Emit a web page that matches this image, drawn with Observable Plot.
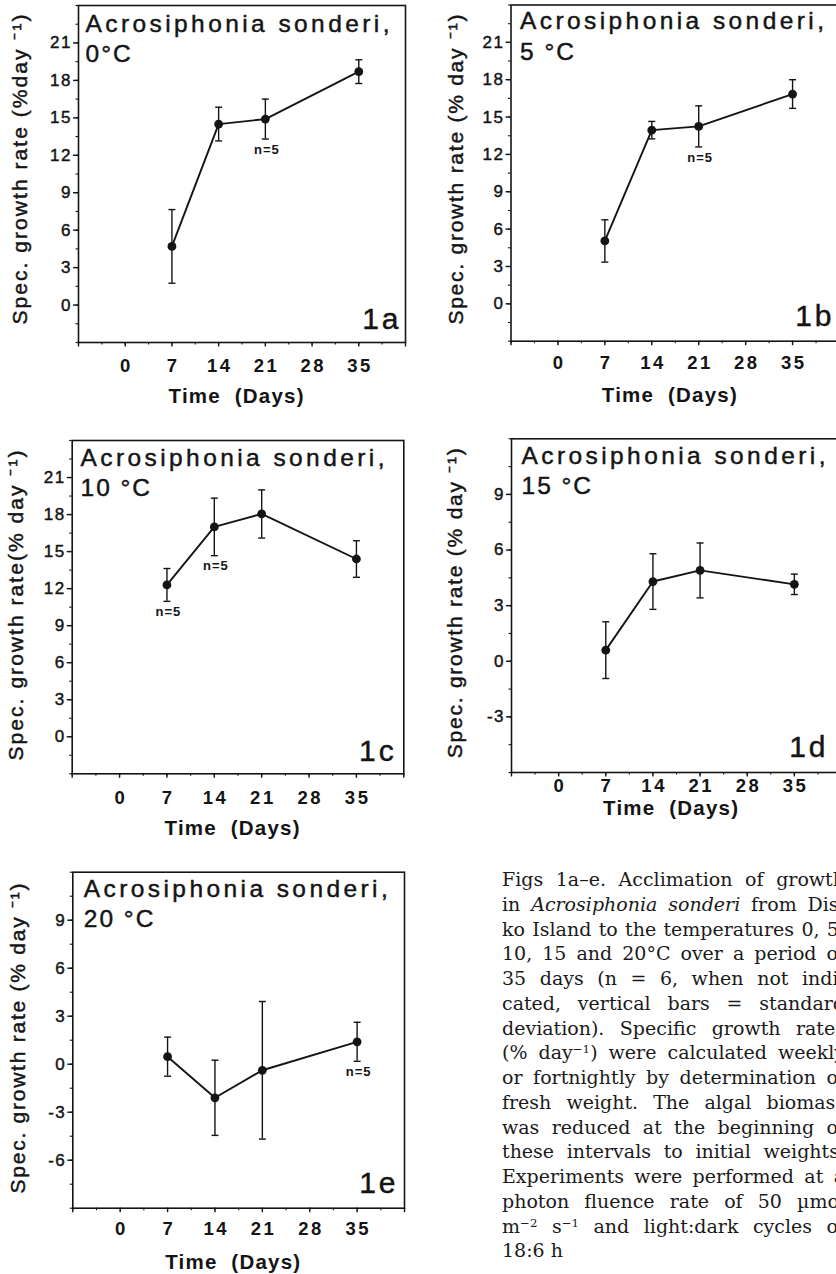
<!DOCTYPE html>
<html>
<head>
<meta charset="utf-8">
<script src="https://cdn.jsdelivr.net/npm/d3@7"></script>
<script src="https://cdn.jsdelivr.net/npm/@observablehq/plot@0.6"></script>
<style>
  html, body { margin: 0; padding: 0; background: #fff; }
  #root { position: relative; width: 836px; height: 1274px; overflow: hidden; background: #fff; }
  .panel { position: absolute; overflow: visible; }
  .panel text { paint-order: stroke; }
  .caption { position: absolute; left: 502px; top: 867px; width: 343px;
    font-family: "DejaVu Serif", "Liberation Serif", serif; font-size: 19px; line-height: 24.75px; color: #1a1a1a; }
  .caption div { text-align: justify; text-align-last: justify; white-space: nowrap; }
  .caption div.last { text-align-last: left; }
  .caption sup { font-size: 0.62em; line-height: 0; vertical-align: 0.55em; }
</style>
</head>
<body>
<div id="root"></div>
<script>
// ---------- data ----------
const days = [7, 14, 21, 35];
const xTickLabels = [0, 7, 14, 21, 28, 35];
const xTickMarks = [-7, 0, 7, 14, 21, 28, 35, 42];
const xDomain = [-7, 42];

const panelNames = ["1a", "1b", "1c", "1d", "1e"];
const speciesName = "Acrosiphonia sonderi,";
const temperatures = ["0°C", "5 °C", "10 °C", "15 °C", "20 °C"];
const yLabels = [
  "Spec. growth rate (%day ⁻¹)",
  "Spec. growth rate (% day ⁻¹)",
  "Spec. growth rate(% day ⁻¹)",
  "Spec. growth rate (% day ⁻¹)",
  "Spec. growth rate (% day ⁻¹)"
];
const xLabel = "Time  (Days)";
const nLabel = "n=5";

// means and standard deviations (% day-1)
const mean0C  = [4.7, 14.5, 14.9, 18.7];
const sd0C    = [2.95, 1.35, 1.6, 0.95];
const mean5C  = [5.05, 13.95, 14.25, 16.85];
const sd5C    = [1.7, 0.7, 1.65, 1.15];
const mean10C = [12.3, 17.0, 18.05, 14.4];
const sd10C   = [1.33, 2.33, 1.95, 1.48];
const mean15C = [0.6, 4.3, 4.9, 4.15];
const sd15C   = [1.53, 1.5, 1.48, 0.55];
const mean20C = [0.47, -2.1, -0.38, 1.4];
const sd20C   = [1.22, 2.35, 4.3, 1.22];

// days for which n = 5
const n5Days0C  = [21];
const n5Days5C  = [21];
const n5Days10C = [7, 14];
const n5Days15C = [];
const n5Days20C = [35];

const yDomainWarm = [-6, 12];
const yDomainCold = [-3, 24];
const yDomainHot  = [-9, 12];
const yTicksCold = [0, 3, 6, 9, 12, 15, 18, 21];
const yTicksWarm = [-3, 0, 3, 6, 9];
const yTicksHot  = [-6, -3, 0, 3, 6, 9];

const captionLines = [
  "Figs 1a–e. Acclimation of growth",
  "in <i>Acrosiphonia sonderi</i> from Dis-",
  "ko Island to the temperatures 0, 5,",
  "10, 15 and 20°C over a period of",
  "35 days (n = 6, when not indi-",
  "cated, vertical bars = standard",
  "deviation). Specific growth rates",
  "(% day<sup>−1</sup>) were calculated weekly",
  "or fortnightly by determination of",
  "fresh weight. The algal biomass",
  "was reduced at the beginning of",
  "these intervals to initial weights.",
  "Experiments were performed at a",
  "photon fluence rate of 50 µmol",
  "m<sup>−2</sup> s<sup>−1</sup> and light:dark cycles of",
  "18:6 h"
];

const series = [
  {mean: mean0C,  sd: sd0C,  n5: n5Days0C,  yDomain: yDomainCold, yTicks: yTicksCold},
  {mean: mean5C,  sd: sd5C,  n5: n5Days5C,  yDomain: yDomainCold, yTicks: yTicksCold},
  {mean: mean10C, sd: sd10C, n5: n5Days10C, yDomain: yDomainCold, yTicks: yTicksCold},
  {mean: mean15C, sd: sd15C, n5: n5Days15C, yDomain: yDomainWarm, yTicks: yTicksWarm},
  {mean: mean20C, sd: sd20C, n5: n5Days20C, yDomain: yDomainHot,  yTicks: yTicksHot}
];

// ---------- layout (positions / styles only) ----------
const layout = [
  {left: 0,   top: 0,   width: 420, height: 410, ml: 78,   mr: 15,  mt: 5,    mb: 68,
   tDx: 7,  tDy: 26.7, t2Dy: 56.7, yLabDx: -58.5, yLabDy: -4.5, tickOff: 22.7, xLabOff: 54.4, pDx: -4, pDy: -13.3},
  {left: 416, top: 0,   width: 430, height: 410, ml: 94.5, mr: 7,   mt: 4.5,  mb: 69.3,
   tDx: 9,  tDy: 24,   t2Dy: 55,   yLabDx: -54.5, yLabDy: -3.5, tickOff: 21,   xLabOff: 54.3, pDx: -5, pDy: -15},
  {left: 0,   top: 420, width: 420, height: 420, ml: 71.7, mr: 16.7, mt: 20,  mb: 66.7,
   tDx: 8.3, tDy: 25,  t2Dy: 55,   yLabDx: -55.7, yLabDy: -1.7, tickOff: 23.4, xLabOff: 54.7, pDx: -7, pDy: -13.3},
  {left: 416, top: 420, width: 430, height: 420, ml: 95,   mr: 5,   mt: 18.3, mb: 68,
   tDx: 10, tDy: 25,   t2Dy: 55,   yLabDx: -56,   yLabDy: -2.5, tickOff: 12.7, xLabOff: 35.7, pDx: -13, pDy: -15.6},
  {left: 0,   top: 850, width: 420, height: 424, ml: 72.3, mr: 16,  mt: 21.7, mb: 66.3,
   tDx: 11, tDy: 25,   t2Dy: 55,   yLabDx: -54.8, yLabDy: -1.7, tickOff: 20.3, xLabOff: 54,   pDx: -6, pDy: -15.7}
];

const ink = "#141414";
const sans = "'Liberation Sans', Arial, Helvetica, sans-serif";

// horizontal bar symbol for error-bar caps
const capSymbol = {
  draw(context, size) {
    const w = Math.sqrt(size / Math.PI);
    context.moveTo(-w, 0);
    context.lineTo(w, 0);
  }
};

const root = document.getElementById("root");

series.forEach((s, i) => {
  const L = layout[i];
  const rows = days.map((d, j) => ({day: d, mean: s.mean[j], lo: s.mean[j] - s.sd[j], hi: s.mean[j] + s.sd[j]}));
  const nRows = rows.filter(r => s.n5.includes(r.day));
  const minorY = d3.range(s.yDomain[0], s.yDomain[1] + 0.01, 1.5);
  const minorX = d3.range(xDomain[0], xDomain[1] + 0.01, 3.5);

  const svg = Plot.plot({
    width: L.width,
    height: L.height,
    marginLeft: L.ml, marginRight: L.mr, marginTop: L.mt, marginBottom: L.mb,
    x: {domain: xDomain, axis: null},
    y: {domain: s.yDomain, axis: null},
    style: {fontFamily: sans, color: ink, background: "transparent", overflow: "visible"},
    marks: [
      Plot.frame({stroke: ink, strokeWidth: 1.6}),
      // y axis: minor + major ticks and labels
      Plot.axisY({ticks: minorY, tickSize: 2.5, tickFormat: () => "", label: null, stroke: ink, strokeWidth: 1.1}),
      Plot.axisY({ticks: s.yTicks, tickSize: 5, tickPadding: 1.5, tickFormat: d => String(d), label: null,
                  fontSize: 17, stroke: ink, strokeWidth: 1.4, fill: ink}),
      // x axis: minor + major tick marks, labels
      Plot.axisX({ticks: minorX, tickSize: 2.5, tickFormat: () => "", label: null, stroke: ink, strokeWidth: 1.1}),
      Plot.axisX({ticks: xTickMarks, tickSize: 4.5, tickFormat: () => "", label: null, stroke: ink, strokeWidth: 1.4}),
      Plot.axisX({ticks: xTickLabels, tickSize: 0, tickPadding: L.tickOff - 6.5, tickFormat: d => String(d), label: null,
                  fontSize: 18.5, fontWeight: "bold", fill: ink, dx: 1.2}),
      // error bars
      Plot.ruleX(rows, {x: "day", y1: "lo", y2: "hi", stroke: ink, strokeWidth: 1.4}),
      Plot.dot(rows, {x: "day", y: "lo", symbol: capSymbol, r: 3.5, stroke: ink, strokeWidth: 1.4, fill: "none"}),
      Plot.dot(rows, {x: "day", y: "hi", symbol: capSymbol, r: 3.5, stroke: ink, strokeWidth: 1.4, fill: "none"}),
      // series
      Plot.line(rows, {x: "day", y: "mean", stroke: ink, strokeWidth: 1.9}),
      Plot.dot(rows, {x: "day", y: "mean", r: 4.4, fill: ink, stroke: "none"}),
      // n = 5 annotations
      Plot.text(nRows, {x: "day", y: "lo", text: () => nLabel, dy: 10.5, dx: 1.5, lineAnchor: "middle",
                        fontSize: 13, fontWeight: "bold", fill: ink}),
      // titles inside frame
      Plot.text([speciesName], {text: d => d, frameAnchor: "top-left", dx: L.tDx, dy: L.tDy, textAnchor: "start",
                                lineAnchor: "bottom", fontSize: 24.5, fill: ink}),
      Plot.text([temperatures[i]], {text: d => d, frameAnchor: "top-left", dx: L.tDx, dy: L.t2Dy, textAnchor: "start",
                                    lineAnchor: "bottom", fontSize: 24.5, fill: ink}),
      // panel number
      Plot.text([panelNames[i]], {text: d => d, frameAnchor: "bottom-right", dx: L.pDx, dy: L.pDy, textAnchor: "end",
                                  lineAnchor: "bottom", fontSize: 30, fill: ink}),
      // axis titles
      Plot.text([yLabels[i]], {text: d => d, frameAnchor: "left", rotate: -90, dx: L.yLabDx, dy: L.yLabDy,
                               textAnchor: "middle", lineAnchor: "middle", fontSize: 21, fill: ink}),
      Plot.text([xLabel], {text: d => d, frameAnchor: "bottom", dx: -6, dy: L.xLabOff, textAnchor: "middle",
                           lineAnchor: "middle", fontSize: 20.5, fontWeight: "bold", fill: ink})
    ]
  });

  // typographic tuning (letter spacing / text length / stroke weight)
  const sel = d3.select(svg);
  const heavy = el => el.style("stroke", ink).style("stroke-width", "0.45px");
  sel.selectAll("text").each(function () {
    const t = this.textContent;
    const el = d3.select(this);
    if (t === speciesName) { heavy(el).attr("textLength", 304).attr("lengthAdjust", "spacing"); }
    else if (t === temperatures[i]) { heavy(el).style("letter-spacing", "2px"); }
    else if (t === panelNames[i]) { heavy(el).style("letter-spacing", "3px"); }
    else if (t === yLabels[i]) { heavy(el).attr("textLength", 310).attr("lengthAdjust", "spacing"); }
    else if (t === xLabel) { el.style("white-space", "pre").attr("textLength", 135).attr("lengthAdjust", "spacing"); }
    else if (t === nLabel) { el.style("letter-spacing", "1px"); }
  });
  sel.selectAll('g[aria-label="x-axis tick label"] text').style("letter-spacing", "2.5px");
  sel.selectAll('g[aria-label="y-axis tick label"] text').style("letter-spacing", "1.5px")
     .style("stroke", ink).style("stroke-width", "0.45px");

  svg.classList.add("panel");
  svg.style.left = L.left + "px";
  svg.style.top = L.top + "px";
  svg.style.position = "absolute";
  root.appendChild(svg);
});

// caption
const cap = document.createElement("div");
cap.className = "caption";
cap.innerHTML = captionLines.map((l, k) =>
  `<div${k === captionLines.length - 1 ? ' class="last"' : ""}>${l}</div>`).join("");
root.appendChild(cap);
</script>
</body>
</html>
